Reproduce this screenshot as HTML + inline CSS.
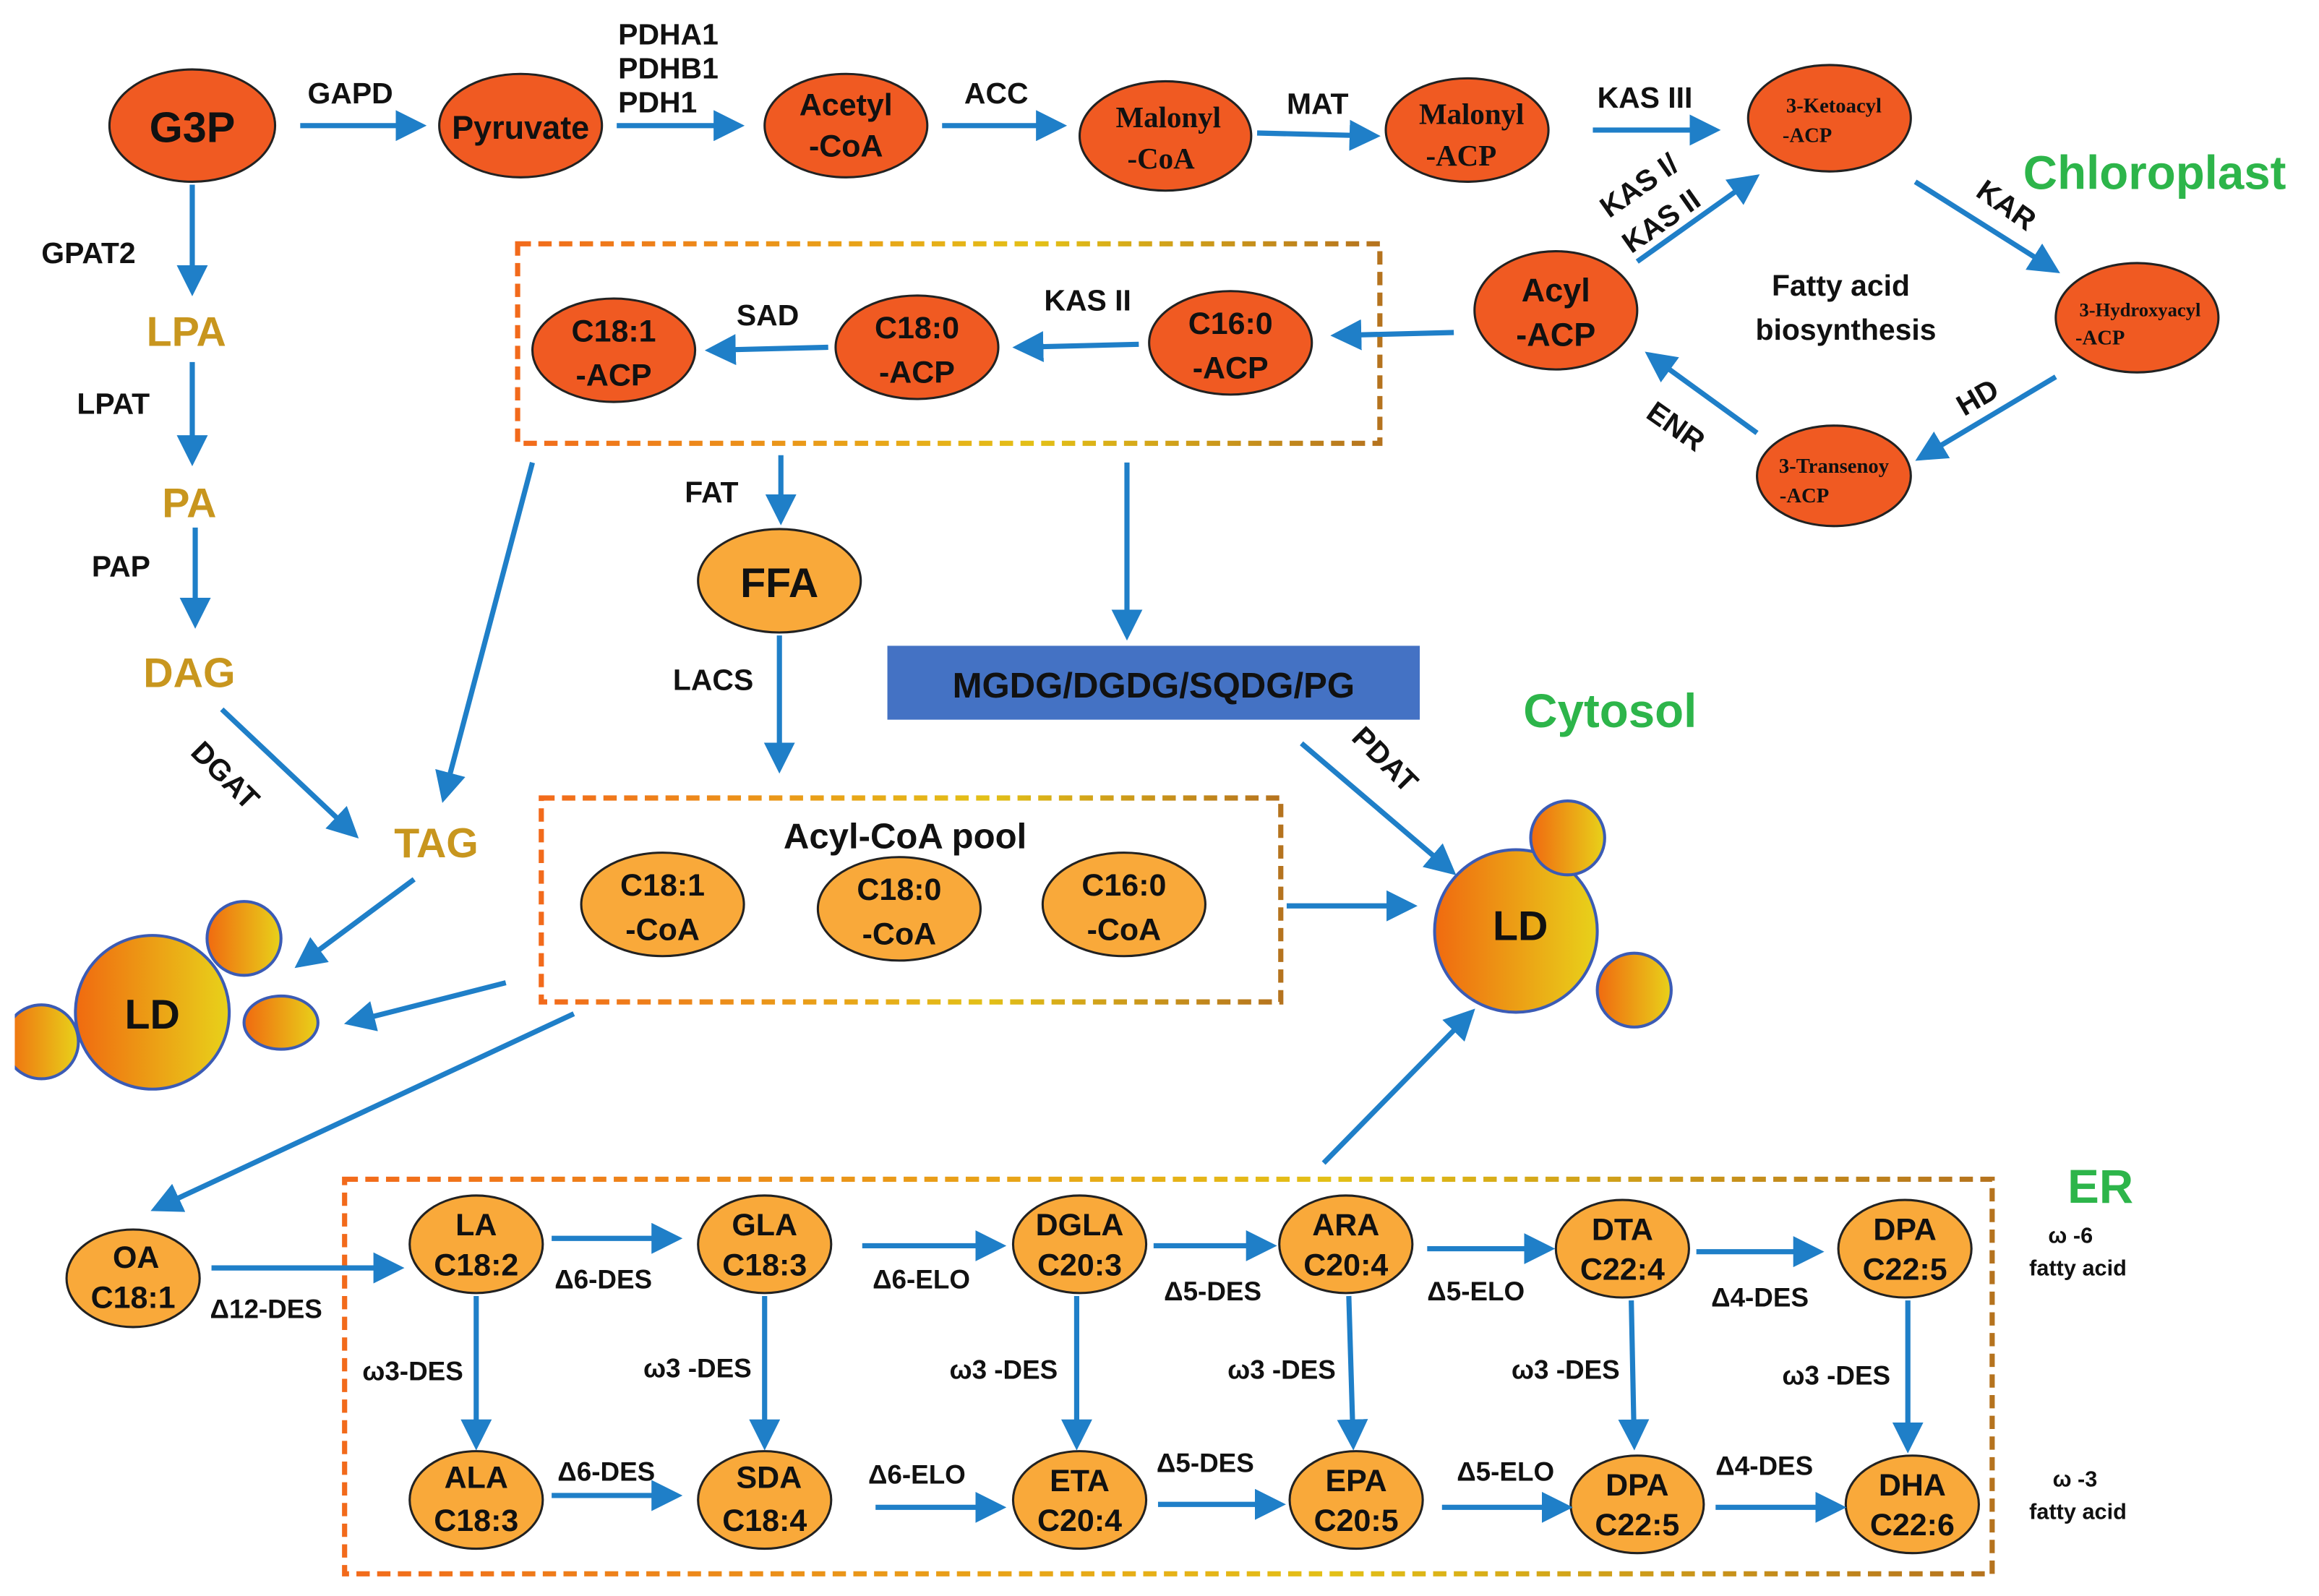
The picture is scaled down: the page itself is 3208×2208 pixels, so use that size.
<!DOCTYPE html>
<html><head><meta charset="utf-8"><style>
html,body{margin:0;padding:0;background:#fff;}
svg{display:block;}
text{font-family:"Liberation Sans",sans-serif;font-weight:bold;}
.s{font-family:"Liberation Serif",serif;}
</style></head><body>
<svg width="3208" height="2208" viewBox="0 0 1568 1080" preserveAspectRatio="none" xmlns="http://www.w3.org/2000/svg">
<defs>
<marker id="a" markerWidth="6" markerHeight="6" refX="5" refY="3" orient="auto" markerUnits="strokeWidth"><path d="M0,0 L6,3 L0,6 z" fill="#1f7fc8"/></marker>
<linearGradient id="bx" x1="0" x2="1" y1="0" y2="0"><stop offset="0" stop-color="#f26a1b"/><stop offset="0.6" stop-color="#e3c017"/><stop offset="1" stop-color="#b5731e"/></linearGradient>
<linearGradient id="ld" x1="0" x2="1" y1="0" y2="0"><stop offset="0" stop-color="#f06a10"/><stop offset="1" stop-color="#e8d21a"/></linearGradient>
</defs>
<g stroke="#222" stroke-width="1.5" fill="#f05a22">
<ellipse cx="130" cy="85" rx="56" ry="38"/>
<ellipse cx="352" cy="85" rx="55" ry="35"/>
<ellipse cx="572" cy="85" rx="55" ry="35"/>
<ellipse cx="788" cy="92" rx="58" ry="37"/>
<ellipse cx="992" cy="88" rx="55" ry="35"/>
<ellipse cx="1237" cy="80" rx="55" ry="36"/>
<ellipse cx="1445" cy="215" rx="55" ry="37"/>
<ellipse cx="1240" cy="322" rx="52" ry="34"/>
<ellipse cx="1052" cy="210" rx="55" ry="40"/>
<ellipse cx="832" cy="232" rx="55" ry="35"/>
<ellipse cx="620" cy="235" rx="55" ry="35"/>
<ellipse cx="415" cy="237" rx="55" ry="35"/>
</g>
<g stroke="#222" stroke-width="1.5" fill="#f9a93a">
<ellipse cx="527" cy="393" rx="55" ry="35"/>
<ellipse cx="448" cy="612" rx="55" ry="35"/>
<ellipse cx="608" cy="615" rx="55" ry="35"/>
<ellipse cx="760" cy="612" rx="55" ry="35"/>
<ellipse cx="90" cy="865" rx="45" ry="33"/>
<ellipse cx="322" cy="842" rx="45" ry="33"/>
<ellipse cx="517" cy="842" rx="45" ry="33"/>
<ellipse cx="730" cy="842" rx="45" ry="33"/>
<ellipse cx="910" cy="842" rx="45" ry="33"/>
<ellipse cx="1097" cy="845" rx="45" ry="33"/>
<ellipse cx="1288" cy="845" rx="45" ry="33"/>
<ellipse cx="322" cy="1015" rx="45" ry="33"/>
<ellipse cx="517" cy="1015" rx="45" ry="33"/>
<ellipse cx="730" cy="1015" rx="45" ry="33"/>
<ellipse cx="917" cy="1015" rx="45" ry="33"/>
<ellipse cx="1107" cy="1018" rx="45" ry="33"/>
<ellipse cx="1293" cy="1018" rx="45" ry="33"/>
</g>
<g fill="none" stroke="url(#bx)" stroke-width="3.5" stroke-dasharray="9,5">
<rect x="350" y="165" width="583" height="135"/>
<rect x="366" y="540" width="500" height="138"/>
<rect x="233" y="798" width="1114" height="267"/>
</g>
<rect x="600" y="437" width="360" height="50" fill="#4472c4"/>
<g fill="url(#ld)" stroke="#3b5bb5" stroke-width="2">
<circle cx="28" cy="705" r="25"/>
<circle cx="103" cy="685" r="52"/>
<circle cx="165" cy="635" r="25"/>
<ellipse cx="190" cy="692" rx="25" ry="18"/>
<circle cx="1025" cy="630" r="55"/>
<circle cx="1060" cy="567" r="25"/>
<circle cx="1105" cy="670" r="25"/>
</g>
<rect x="0" y="660" width="10" height="80" fill="#fff"/>
<g stroke="#1f7fc8" stroke-width="3.5" marker-end="url(#a)" fill="none">
<line x1="203" y1="85" x2="285" y2="85"/>
<line x1="417" y1="85" x2="500" y2="85"/>
<line x1="637" y1="85" x2="718" y2="85"/>
<line x1="850" y1="90" x2="930" y2="92"/>
<line x1="1077" y1="88" x2="1160" y2="88"/>
<line x1="1295" y1="123" x2="1390" y2="183"/>
<line x1="1390" y1="255" x2="1298" y2="310"/>
<line x1="1188" y1="293" x2="1115" y2="240"/>
<line x1="1107" y1="177" x2="1187" y2="120"/>
<line x1="983" y1="225" x2="903" y2="227"/>
<line x1="770" y1="233" x2="688" y2="235"/>
<line x1="560" y1="235" x2="480" y2="237"/>
<line x1="130" y1="125" x2="130" y2="197"/>
<line x1="130" y1="245" x2="130" y2="312"/>
<line x1="132" y1="357" x2="132" y2="422"/>
<line x1="150" y1="480" x2="240" y2="565"/>
<line x1="360" y1="313" x2="300" y2="540"/>
<line x1="528" y1="308" x2="528" y2="352"/>
<line x1="762" y1="313" x2="762" y2="430"/>
<line x1="527" y1="430" x2="527" y2="520"/>
<line x1="280" y1="595" x2="202" y2="653"/>
<line x1="342" y1="665" x2="236" y2="692"/>
<line x1="880" y1="503" x2="982" y2="590"/>
<line x1="870" y1="613" x2="955" y2="613"/>
<line x1="388" y1="686" x2="105" y2="818"/>
<line x1="895" y1="787" x2="995" y2="685"/>
<line x1="143" y1="858" x2="270" y2="858"/>
<line x1="373" y1="838" x2="458" y2="838"/>
<line x1="583" y1="843" x2="677" y2="843"/>
<line x1="780" y1="843" x2="860" y2="843"/>
<line x1="965" y1="845" x2="1048" y2="845"/>
<line x1="1147" y1="847" x2="1230" y2="847"/>
<line x1="322" y1="877" x2="322" y2="978"/>
<line x1="517" y1="877" x2="517" y2="978"/>
<line x1="728" y1="877" x2="728" y2="978"/>
<line x1="912" y1="877" x2="915" y2="978"/>
<line x1="1103" y1="880" x2="1105" y2="978"/>
<line x1="1290" y1="880" x2="1290" y2="980"/>
<line x1="373" y1="1012" x2="458" y2="1012"/>
<line x1="592" y1="1020" x2="677" y2="1020"/>
<line x1="783" y1="1018" x2="866" y2="1018"/>
<line x1="975" y1="1020" x2="1060" y2="1020"/>
<line x1="1160" y1="1020" x2="1245" y2="1020"/>
</g>
<g text-anchor="middle" fill="#111">
<text x="130" y="96" font-size="29">G3P</text>
<text x="352" y="94" font-size="22">Pyruvate</text>
<text x="572" y="78" font-size="21">Acetyl</text><text x="572" y="106" font-size="21">-CoA</text>
<text class="s" x="790" y="86" font-size="20" font-weight="normal">Malonyl</text><text class="s" x="785" y="114" font-size="20" font-weight="normal">-CoA</text>
<text class="s" x="995" y="84" font-size="20">Malonyl</text><text class="s" x="988" y="112" font-size="20">-ACP</text>
<text class="s" x="1240" y="76" font-size="14" font-weight="normal">3-Ketoacyl</text><text class="s" x="1222" y="96" font-size="14" font-weight="normal">-ACP</text>
<text class="s" x="1447" y="214" font-size="13" font-weight="normal">3-Hydroxyacyl</text><text class="s" x="1420" y="233" font-size="14" font-weight="normal">-ACP</text>
<text class="s" x="1240" y="320" font-size="14">3-Transenoy</text><text class="s" x="1220" y="340" font-size="14">-ACP</text>
<text x="1052" y="204" font-size="22">Acyl</text><text x="1052" y="234" font-size="22">-ACP</text>
<text x="832" y="226" font-size="21">C16:0</text><text x="832" y="256" font-size="21">-ACP</text>
<text x="620" y="229" font-size="21">C18:0</text><text x="620" y="259" font-size="21">-ACP</text>
<text x="415" y="231" font-size="21">C18:1</text><text x="415" y="261" font-size="21">-ACP</text>
<text x="527" y="404" font-size="28">FFA</text>
<text x="780" y="472" font-size="24">MGDG/DGDG/SQDG/PG</text>
<text x="612" y="574" font-size="24">Acyl-CoA pool</text>
<text x="448" y="606" font-size="21">C18:1</text><text x="448" y="636" font-size="21">-CoA</text>
<text x="608" y="609" font-size="21">C18:0</text><text x="608" y="639" font-size="21">-CoA</text>
<text x="760" y="606" font-size="21">C16:0</text><text x="760" y="636" font-size="21">-CoA</text>
<text x="103" y="696" font-size="28">LD</text>
<text x="1028" y="636" font-size="28">LD</text>
<g font-size="21">
<text x="92" y="858">OA</text><text x="90" y="885">C18:1</text>
<text x="322" y="836">LA</text><text x="322" y="863">C18:2</text>
<text x="517" y="836">GLA</text><text x="517" y="863">C18:3</text>
<text x="730" y="836">DGLA</text><text x="730" y="863">C20:3</text>
<text x="910" y="836">ARA</text><text x="910" y="863">C20:4</text>
<text x="1097" y="839">DTA</text><text x="1097" y="866">C22:4</text>
<text x="1288" y="839">DPA</text><text x="1288" y="866">C22:5</text>
<text x="322" y="1007">ALA</text><text x="322" y="1036">C18:3</text>
<text x="520" y="1007">SDA</text><text x="517" y="1036">C18:4</text>
<text x="730" y="1009">ETA</text><text x="730" y="1036">C20:4</text>
<text x="917" y="1009">EPA</text><text x="917" y="1036">C20:5</text>
<text x="1107" y="1012">DPA</text><text x="1107" y="1039">C22:5</text>
<text x="1293" y="1012">DHA</text><text x="1293" y="1039">C22:6</text>
</g>
</g>
<g fill="#c8961e" font-size="28" text-anchor="middle">
<text x="126" y="234">LPA</text><text x="128" y="350">PA</text><text x="128" y="465">DAG</text><text x="295" y="580">TAG</text>
</g>
<g fill="#2db54a" font-size="32">
<text x="1368" y="128">Chloroplast</text><text x="1030" y="492">Cytosol</text><text x="1398" y="814">ER</text>
</g>
<g fill="#111" font-size="20">
<text x="208" y="70">GAPD</text>
<text x="418" y="30">PDHA1</text><text x="418" y="53">PDHB1</text><text x="418" y="76">PDH1</text>
<text x="652" y="70">ACC</text><text x="870" y="77">MAT</text><text x="1080" y="73">KAS III</text>
<text x="28" y="178">GPAT2</text><text x="52" y="280">LPAT</text><text x="62" y="390">PAP</text>
<text x="498" y="220">SAD</text><text x="706" y="210">KAS II</text>
<text x="463" y="340">FAT</text><text x="455" y="467">LACS</text>
<text x="1198" y="200">Fatty acid</text><text x="1187" y="230">biosynthesis</text>
<text transform="translate(128,510) rotate(45)">DGAT</text>
<text transform="translate(913,500) rotate(45)">PDAT</text>
<text transform="translate(1088,148) rotate(-35)">KAS I/</text>
<text transform="translate(1103,172) rotate(-35)">KAS II</text>
<text transform="translate(1335,132) rotate(35)">KAR</text>
<text transform="translate(1328,282) rotate(-30)">HD</text>
<text transform="translate(1112,282) rotate(35)">ENR</text>
</g>
<g fill="#111" font-size="18">
<text x="142" y="892">Δ12-DES</text><text x="375" y="872">Δ6-DES</text><text x="590" y="872">Δ6-ELO</text>
<text x="787" y="880">Δ5-DES</text><text x="965" y="880">Δ5-ELO</text><text x="1157" y="884">Δ4-DES</text>
<text x="245" y="934">ω3-DES</text><text x="435" y="932">ω3 -DES</text><text x="642" y="933">ω3 -DES</text>
<text x="830" y="933">ω3 -DES</text><text x="1022" y="933">ω3 -DES</text><text x="1205" y="937">ω3 -DES</text>
<text x="377" y="1002">Δ6-DES</text><text x="587" y="1004">Δ6-ELO</text><text x="782" y="996">Δ5-DES</text>
<text x="985" y="1002">Δ5-ELO</text><text x="1160" y="998">Δ4-DES</text>
</g>
<g fill="#111" font-size="15" text-anchor="middle">
<text x="1400" y="841">ω -6</text><text x="1405" y="863">fatty acid</text>
<text x="1403" y="1006">ω -3</text><text x="1405" y="1028">fatty acid</text>
</g>
</svg>
</body></html>
